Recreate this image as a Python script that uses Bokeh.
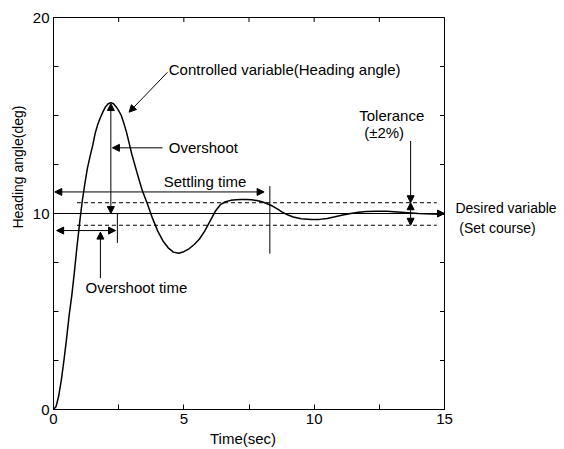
from bokeh.plotting import figure
from bokeh.models import Arrow, NormalHead, Label, FixedTicker
from bokeh.embed import file_html
from bokeh.resources import INLINE
import math

# ---- data ----
time_s = [0, 0.1, 0.2, 0.3, 0.4, 0.5, 0.6, 0.7, 0.8, 0.9, 1.0, 1.1, 1.2, 1.3, 1.4,
          1.5, 1.6, 1.7, 1.8, 1.9, 2.0, 2.1, 2.2, 2.3, 2.4, 2.5, 2.6, 2.7, 2.8, 2.9,
          3.0, 3.2, 3.4, 3.6, 3.8, 4.0, 4.2, 4.4, 4.6, 4.8, 5.0, 5.2, 5.4, 5.6, 5.8,
          6.0, 6.2, 6.4, 6.6, 6.8, 7.0, 7.2, 7.4, 7.6, 7.8, 8.0, 8.2, 8.4, 8.6, 8.8,
          9.0, 9.2, 9.5, 9.9, 10.2, 10.5, 10.8, 11.1, 11.4, 11.7, 12.0, 12.4, 12.8,
          13.2, 13.6, 14.0, 14.5, 15.0]
heading = [0, 0.15, 0.7, 1.5, 2.5, 3.6, 4.8, 5.8, 7.0, 8.3, 9.5, 10.6, 11.5, 12.3, 12.9,
           13.45, 14.1, 14.55, 14.9, 15.2, 15.45, 15.6, 15.66, 15.6, 15.45, 15.25, 15.0, 14.6, 14.15, 13.6,
           13.05, 12.1, 11.2, 10.5, 9.75, 9.1, 8.6, 8.25, 8.03, 7.97, 8.05, 8.2, 8.42, 8.7, 9.1,
           9.6, 10.1, 10.45, 10.6, 10.67, 10.7, 10.72, 10.72, 10.7, 10.66, 10.6, 10.5, 10.38, 10.22, 10.05,
           9.92, 9.82, 9.73, 9.69, 9.7, 9.75, 9.83, 9.92, 10.0, 10.06, 10.1, 10.12, 10.11,
           10.08, 10.04, 10.0, 9.97, 9.96]

set_course = 10
tol_upper = 10.55
tol_lower = 9.4
peak_time = 2.2
peak_value = 15.66
overshoot_time = 2.45
settling_time = 8.3

x_major = [0, 5, 10, 15]
x_minor = [2.5, 7.5, 12.5]
y_major = [0, 10, 20]
y_minor = [2.5, 5, 7.5, 12.5, 15, 17.5]

FONT = "Liberation Sans"
FS = "15px"

p = figure(width=564, height=449, x_range=(0, 15), y_range=(0, 20),
           output_backend="svg", toolbar_location=None,
           min_border_left=53, min_border_right=120, min_border_top=17, min_border_bottom=40)
p.xgrid.visible = False
p.ygrid.visible = False
p.outline_line_color = "black"
p.outline_line_width = 1
p.background_fill_color = "white"
p.border_fill_color = "white"

for ax, ticks, minor in ((p.xaxis[0], x_major, x_minor), (p.yaxis[0], y_major, y_minor)):
    ax.ticker = FixedTicker(ticks=ticks, minor_ticks=minor)
    ax.axis_line_color = "black"
    ax.major_tick_in = 5
    ax.major_tick_out = 0
    ax.minor_tick_in = 5
    ax.minor_tick_out = 0
    ax.major_tick_line_color = "black"
    ax.minor_tick_line_color = "black"
    ax.major_label_text_font = FONT
    ax.major_label_text_font_size = FS
    ax.major_label_text_color = "black"
    ax.major_label_standoff = 4

# inward ticks on the top and right edges (half of each dash is clipped by the frame)
x_all = x_major + x_minor
y_all = y_major + y_minor
p.scatter(x=x_all, y=[20] * len(x_all), marker="dash", angle=math.pi / 2, size=9,
          line_color="black", line_width=1)
p.scatter(x=[15] * len(y_all), y=y_all, marker="dash", size=9,
          line_color="black", line_width=1)

# response curve
p.line(time_s, heading, line_color="black", line_width=1.5)

# tolerance band
p.segment(x0=[0.9, 0.9], y0=[tol_upper, tol_lower], x1=[14.7, 14.7], y1=[tol_upper, tol_lower],
          line_color="black", line_width=1, line_dash="4 3")

# vertical markers
p.segment(x0=[settling_time, overshoot_time], y0=[11.4, 10.0],
          x1=[settling_time, overshoot_time], y1=[7.95, 8.5],
          line_color="black", line_width=1)

def head():
    return NormalHead(size=7, fill_color="black", line_color="black", line_width=1)

def arrow(x0, y0, x1, y1, both=False):
    p.add_layout(Arrow(x_start=x0, y_start=y0, x_end=x1, y_end=y1,
                       start=head() if both else None, end=head(),
                       line_color="black", line_width=1))

arrow(0, set_course, 15, set_course)
arrow(peak_time, set_course, peak_time, peak_value - 0.05, both=True)
arrow(0.05, 11.1, 8.08, 11.1, both=True)
arrow(0.12, 9.13, 2.38, 9.13, both=True)
arrow(1.8, 6.7, 1.8, 9.05)
arrow(4.18, 13.35, 2.26, 13.35)
arrow(4.37, 17.2, 2.9, 15.17)
arrow(13.7, 13.7, 13.7, tol_upper)
arrow(13.7, set_course, 13.7, tol_upper)
arrow(13.7, set_course, 13.7, tol_lower)

def label(x, y, text, angle=0, align="left", place="center", size=FS, lh=1.2):
    lab = Label(x=x, y=y, text=text, angle=angle, text_align=align,
                text_baseline="middle", text_font=FONT, text_font_size=size,
                text_color="black", text_line_height=lh)
    p.add_layout(lab, place)

label(4.42, 17.35, "Controlled variable(Heading angle)")
label(4.42, 13.37, "Overshoot")
label(4.23, 11.63, "Settling time")
label(1.23, 6.24, "Overshoot time")
label(11.73, 15.0, "Tolerance")
label(11.92, 14.13, "(\u00b12%)")
label(15.42, 9.76, "Desired variable\n\u00a0(Set course)", place="right", size="14px", lh=1.27)
label(7.27, -1.48, "Time(sec)", align="center", place="below")
label(-1.35, 12.37, "Heading angle(deg)", angle=math.pi / 2, align="center", place="left", size="14px")

open("out.html", "w").write(file_html(p, INLINE))
